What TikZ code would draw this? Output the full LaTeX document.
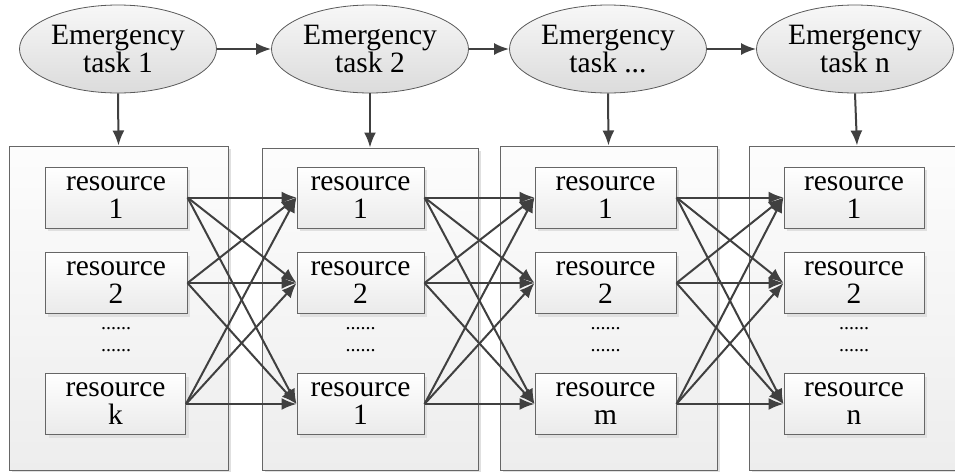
\documentclass[tikz,border=0pt]{standalone}
\usepackage{fontspec}
\setmainfont{Liberation Serif}
\usetikzlibrary{shapes.geometric, arrows.meta, shadows}

\begin{document}
\begin{tikzpicture}[x=0.5pt, y=-0.5pt,
    task/.style={ellipse, draw=black!65, line width=0.4pt, top color=black!3, bottom color=black!14,
      minimum width=98.5pt, minimum height=44pt, inner sep=0pt, align=center,
      font=\rmfamily\fontsize{14.75}{14}\selectfont},
    pool/.style={rectangle, draw=black!60, line width=0.5pt, top color=black!1, bottom color=black!7,
      drop shadow={shadow xshift=1.5pt, shadow yshift=-1.5pt, fill=black!12, opacity=1},
      minimum height=162pt, inner sep=0pt},
    res/.style={rectangle, draw=black!60, line width=0.5pt, top color=white, bottom color=black!8,
      drop shadow={shadow xshift=1.5pt, shadow yshift=-1.5pt, fill=black!12, opacity=1},
      minimum height=30.5pt, inner sep=0pt, align=center,
      font=\rmfamily\fontsize{14.75}{14}\selectfont},
    dots/.style={align=center, inner sep=0pt, font=\rmfamily\fontsize{10}{11}\selectfont},
    link/.style={-{Latex[length=7.5pt,width=6pt]}, draw=black!75, line width=1pt}]
    \useasboundingbox (0,0) rectangle (955,472);

    % tasks
    \node[task] (e1) at (118,49) {Emergency\\task 1};
    \node[task] (e2) at (370,49) {Emergency\\task 2};
    \node[task] (e3) at (608,49) {Emergency\\task ...};
    \node[task] (e4) at (855,49) {Emergency\\task n};

    % resource pools
    \node[pool, minimum width=109.5pt] (c1) at (118.5,308) {};
    \node[pool, minimum width=108pt, minimum height=161pt] (c2) at (370,309) {};
    \node[pool, minimum width=108.5pt] (c3) at (608.5,308) {};
    \node[pool, minimum width=108pt] (c4) at (857,308) {};

    % resources
    \node[res, minimum width=71pt] (r11) at (116,197.5) {resource\\1};
    \node[res, minimum width=71pt] (r12) at (116,283) {resource\\2};
    \node[res, minimum width=70pt] (r13) at (115.5,404) {resource\\k};
    \node[dots] (d1) at (116,340) {......\\......};

    \node[res, minimum width=63.5pt] (r21) at (360.5,197.5) {resource\\1};
    \node[res, minimum width=63.5pt] (r22) at (360.5,283) {resource\\2};
    \node[res, minimum width=63.5pt] (r23) at (360.5,404) {resource\\1};
    \node[dots] (d2) at (360.5,340) {......\\......};

    \node[res, minimum width=70.5pt] (r31) at (605.5,197.5) {resource\\1};
    \node[res, minimum width=70.5pt] (r32) at (605.5,283) {resource\\2};
    \node[res, minimum width=70.5pt] (r33) at (605.5,404) {resource\\m};
    \node[dots] (d3) at (605.5,340) {......\\......};

    \node[res, minimum width=70pt] (r41) at (854,197.5) {resource\\1};
    \node[res, minimum width=70pt] (r42) at (854,283) {resource\\2};
    \node[res, minimum width=70pt] (r43) at (854,404) {resource\\n};
    \node[dots] (d4) at (854,340) {......\\......};

    % task order
    \draw[link] (e1) -- (e2);
    \draw[link] (e2) -- (e3);
    \draw[link] (e3) -- (e4);

    % task to pool
    \draw[link] (e1.south) -- (c1.north);
    \draw[link] (e2.south) -- (c2.north);
    \draw[link] (e3.south) -- (c3.north);
    \draw[link] (e4.south) -- (c4.north);

    % pool 1 to pool 2
    \draw[link] (r11.east) -- (r21.west);
    \draw[link] (r11.east) -- (r22.west);
    \draw[link] (r11.east) -- (r23.west);
    \draw[link] (r12.east) -- (r21.west);
    \draw[link] (r12.east) -- (r22.west);
    \draw[link] (r12.east) -- (r23.west);
    \draw[link] (r13.east) -- (r21.west);
    \draw[link] (r13.east) -- (r22.west);
    \draw[link] (r13.east) -- (r23.west);

    % pool 2 to pool 3
    \draw[link] (r21.east) -- (r31.west);
    \draw[link] (r21.east) -- (r32.west);
    \draw[link] (r21.east) -- (r33.west);
    \draw[link] (r22.east) -- (r31.west);
    \draw[link] (r22.east) -- (r32.west);
    \draw[link] (r22.east) -- (r33.west);
    \draw[link] (r23.east) -- (r31.west);
    \draw[link] (r23.east) -- (r32.west);
    \draw[link] (r23.east) -- (r33.west);

    % pool 3 to pool 4
    \draw[link] (r31.east) -- (r41.west);
    \draw[link] (r31.east) -- (r42.west);
    \draw[link] (r31.east) -- (r43.west);
    \draw[link] (r32.east) -- (r41.west);
    \draw[link] (r32.east) -- (r42.west);
    \draw[link] (r32.east) -- (r43.west);
    \draw[link] (r33.east) -- (r41.west);
    \draw[link] (r33.east) -- (r42.west);
    \draw[link] (r33.east) -- (r43.west);
\end{tikzpicture}
\end{document}
